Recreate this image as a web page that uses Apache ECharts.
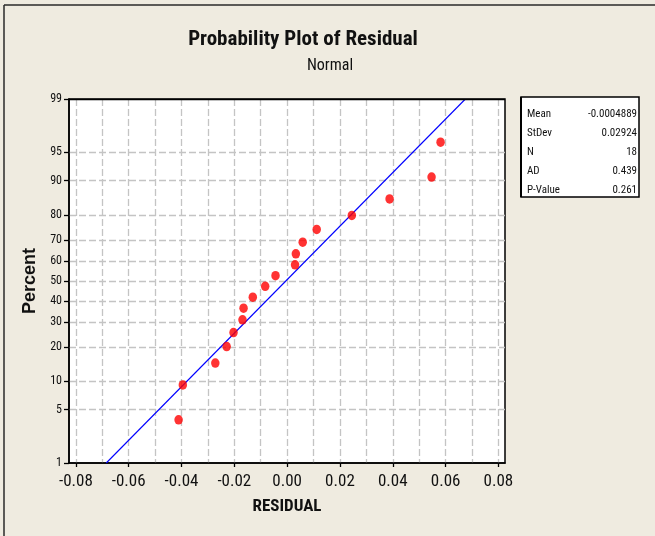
<!DOCTYPE html>
<html><head><meta charset="utf-8">
<script src="https://cdn.jsdelivr.net/npm/echarts@6/dist/echarts.min.js"></script>
<style>html,body{margin:0;padding:0;background:#efebe0}#c{width:655px;height:536px}</style>
</head><body><div id="c"></div>
<script>
// ---- data ----
const residuals = [-0.0411, -0.0395, -0.0272, -0.0229, -0.0203, -0.0169, -0.0165, -0.0130, -0.0083,
                   -0.0044, 0.0030, 0.0033, 0.0059, 0.0112, 0.0245, 0.0388, 0.0547, 0.0581];
const percents = [3.8, 9.2, 14.7, 20.1, 25.5, 31.0, 36.4, 41.8, 47.3,
                  52.7, 58.2, 63.6, 69.0, 74.5, 79.9, 85.3, 90.8, 96.2];
const fitResidual = [-0.0685, 0.0675];
const fitPercent = [1, 99];
const yTickPercents = [1, 5, 10, 20, 30, 40, 50, 60, 70, 80, 90, 95, 99];
const xGridValues = [-0.08, -0.07, -0.06, -0.05, -0.04, -0.03, -0.02, -0.01, 0, 0.01, 0.02, 0.03, 0.04, 0.05, 0.06, 0.07, 0.08];
const xLabelValues = [-0.08, -0.06, -0.04, -0.02, 0, 0.02, 0.04, 0.06, 0.08];
const statLabels = ['Mean', 'StDev', 'N', 'AD', 'P-Value'];
const statValues = ['-0.0004889', '0.02924', '18', '0.439', '0.261'];

// normal quantile (probability-scale transform)
function invNorm(p){
  const a=[-3.969683028665376e+01,2.209460984245205e+02,-2.759285104469687e+02,1.383577518672690e+02,-3.066479806614716e+01,2.506628277459239e+00];
  const b=[-5.447609879822406e+01,1.615858368580409e+02,-1.556989798598866e+02,6.680131188771972e+01,-1.328068155288572e+01];
  const c=[-7.784894002430293e-03,-3.223964580411365e-01,-2.400758277161838e+00,-2.549732539343734e+00,4.374664141464968e+00,2.938163982698783e+00];
  const d=[7.784695709041462e-03,3.224671290700398e-01,2.445134137142996e+00,3.754408661907416e+00];
  const pl=0.02425, ph=1-pl; let q,r;
  if(p<pl){q=Math.sqrt(-2*Math.log(p));return (((((c[0]*q+c[1])*q+c[2])*q+c[3])*q+c[4])*q+c[5])/((((d[0]*q+d[1])*q+d[2])*q+d[3])*q+1);}
  if(p<=ph){q=p-0.5;r=q*q;return (((((a[0]*r+a[1])*r+a[2])*r+a[3])*r+a[4])*r+a[5])*q/(((((b[0]*r+b[1])*r+b[2])*r+b[3])*r+b[4])*r+1);}
  q=Math.sqrt(-2*Math.log(1-p));return -(((((c[0]*q+c[1])*q+c[2])*q+c[3])*q+c[4])*q+c[5])/((((d[0]*q+d[1])*q+d[2])*q+d[3])*q+1);
}
const z = pc => invNorm(pc / 100);
const zTicks = yTickPercents.map(z);
const yMin = z(1), yMax = z(99);

const pointData = residuals.map((v, i) => [v, z(percents[i])]);
const fitData = fitResidual.map((v, i) => [v, z(fitPercent[i])]);

const COND = '"Roboto Condensed", sans-serif';
const grid = '#c4c4c4';
const chart = echarts.init(document.getElementById('c'), null, {renderer: 'canvas'});

const statGraphics = [];
statLabels.forEach((lab, i) => {
  statGraphics.push({type: 'text', x: 527, y: 114 + i * 19, z: 10,
    style: {text: lab, font: '11px ' + COND, fill: '#111', textVerticalAlign: 'middle'}});
  statGraphics.push({type: 'text', x: 637, y: 114 + i * 19, z: 10,
    style: {text: statValues[i], font: '11px ' + COND, fill: '#111', textAlign: 'right', textVerticalAlign: 'middle'}});
});

chart.setOption({
  backgroundColor: '#efebe0',
  animation: false,
  grid: {left: 69, right: 150, top: 99, bottom: 73, show: true, backgroundColor: '#ffffff', borderColor: '#000', borderWidth: 1.5},
  xAxis: [{
    type: 'value', min: -0.0826, max: 0.0825, position: 'bottom',
    name: 'RESIDUAL', nameLocation: 'middle', nameGap: 35,
    nameTextStyle: {fontFamily: COND, fontWeight: 'bold', fontSize: 17, color: '#111'},
    axisLine: {show: true, onZero: false, lineStyle: {color: '#000', width: 1.5}},
    axisTick: {show: false, customValues: xGridValues},
    axisLabel: {customValues: xLabelValues, formatter: v => v.toFixed(2), margin: 10,
      fontFamily: COND, fontSize: 17, color: '#111'},
    splitLine: {show: true, lineStyle: {color: grid, type: [7, 3], width: 1.3}}
  }, {
    type: 'value', min: -0.0826, max: 0.0825, position: 'bottom', gridIndex: 0,
    axisLine: {show: false, onZero: false},
    axisTick: {show: true, customValues: xLabelValues, length: 4, lineStyle: {color: '#000', width: 1.3}},
    axisLabel: {show: false},
    splitLine: {show: false}
  }],
  yAxis: {
    type: 'value', min: yMin, max: yMax,
    name: 'Percent', nameLocation: 'middle', nameGap: 25, nameRotate: 90,
    nameTextStyle: {fontFamily: '"Liberation Sans", Arial, sans-serif', fontWeight: 'bold', fontSize: 18, color: '#111'},
    axisLine: {show: true, onZero: false, lineStyle: {color: '#000', width: 1.5}},
    axisTick: {show: true, customValues: zTicks, length: 5, lineStyle: {color: '#000', width: 1.3}},
    axisLabel: {customValues: zTicks, margin: 7,
      formatter: v => { let best = 0; zTicks.forEach((t, i) => { if (Math.abs(t - v) < Math.abs(zTicks[best] - v)) best = i; }); return String(yTickPercents[best]); },
      fontFamily: COND, fontSize: 12, color: '#111'},
    splitLine: {show: true, showMinLine: false, showMaxLine: false, lineStyle: {color: grid, type: [7, 3], width: 1.3}}
  },
  series: [{
    type: 'line', data: fitData, showSymbol: false, symbol: 'none', z: 2,
    lineStyle: {color: '#0000ff', width: 1.1}
  }, {
    type: 'scatter', data: pointData, symbol: 'circle', symbolSize: [8.5, 9.5], z: 3,
    itemStyle: {color: '#ff0000'}
  }],
  graphic: [
    {type: 'line', shape: {x1: 4, y1: 5, x2: 655, y2: 5}, style: {stroke: '#2a2a2a', lineWidth: 1.5}},
    {type: 'line', shape: {x1: 4, y1: 5, x2: 4, y2: 536}, style: {stroke: '#2a2a2a', lineWidth: 1.5}},
    {type: 'line', shape: {x1: 69, y1: 99.5, x2: 505, y2: 99.5}, style: {stroke: '#000', lineWidth: 1.5}, z: 5},
    {type: 'text', x: 303, y: 29, style: {text: 'Probability Plot of Residual', textAlign: 'center', textVerticalAlign: 'top',
      font: 'bold 21px ' + COND, fill: '#111'}},
    {type: 'text', x: 330, y: 58, style: {text: 'Normal', textAlign: 'center', textVerticalAlign: 'top',
      font: '16px ' + COND, fill: '#111'}},
    {type: 'rect', shape: {x: 521, y: 97, width: 118, height: 100}, style: {fill: '#fff', stroke: '#000', lineWidth: 1.5}},
    {type: 'line', shape: {x1: 521, y1: 97, x2: 521, y2: 197}, style: {stroke: '#000', lineWidth: 2}}
  ].concat(statGraphics)
});
</script></body></html>
